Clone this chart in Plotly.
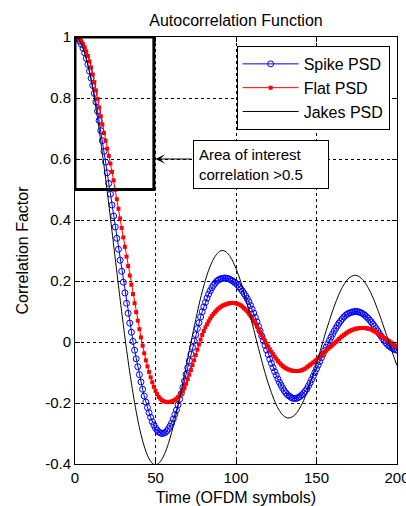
import plotly.graph_objects as go

# ---------------- data ----------------
time_spike = list(range(0, 201))
spike_psd = [
    1.000, 0.998, 0.994, 0.986, 0.976, 0.963, 0.948, 0.930, 0.910, 0.888,
    0.865, 0.841, 0.815, 0.787, 0.757, 0.726, 0.693, 0.660, 0.625, 0.590,
    0.555, 0.520, 0.485, 0.449, 0.413, 0.377, 0.340, 0.304, 0.268, 0.232,
    0.196, 0.161, 0.127, 0.094, 0.062, 0.032, 0.002, -0.027, -0.055, -0.081,
    -0.107, -0.131, -0.155, -0.177, -0.197, -0.215, -0.232, -0.247, -0.261, -0.272,
    -0.282, -0.289, -0.295, -0.298, -0.300, -0.299, -0.297, -0.292, -0.285, -0.276,
    -0.266, -0.253, -0.238, -0.223, -0.206, -0.188, -0.169, -0.149, -0.128, -0.106,
    -0.084, -0.062, -0.040, -0.018, 0.003, 0.024, 0.044, 0.063, 0.082, 0.099,
    0.115, 0.130, 0.144, 0.157, 0.168, 0.178, 0.186, 0.193, 0.199, 0.203,
    0.206, 0.208, 0.209, 0.210, 0.209, 0.208, 0.206, 0.203, 0.200, 0.196,
    0.192, 0.187, 0.181, 0.174, 0.167, 0.159, 0.151, 0.142, 0.132, 0.120,
    0.108, 0.095, 0.081, 0.066, 0.051, 0.036, 0.020, 0.004, -0.011, -0.026,
    -0.041, -0.056, -0.070, -0.084, -0.097, -0.109, -0.121, -0.132, -0.142, -0.151,
    -0.160, -0.167, -0.173, -0.177, -0.181, -0.184, -0.185, -0.185, -0.184, -0.181,
    -0.178, -0.173, -0.168, -0.161, -0.154, -0.144, -0.134, -0.123, -0.112, -0.100,
    -0.088, -0.076, -0.064, -0.052, -0.040, -0.028, -0.017, -0.006, 0.005, 0.016,
    0.026, 0.036, 0.045, 0.054, 0.062, 0.069, 0.076, 0.082, 0.087, 0.091,
    0.094, 0.096, 0.098, 0.099, 0.100, 0.100, 0.099, 0.097, 0.095, 0.092,
    0.088, 0.083, 0.078, 0.072, 0.066, 0.059, 0.052, 0.044, 0.036, 0.028,
    0.020, 0.012, 0.005, -0.002, -0.008, -0.013, -0.017, -0.020, -0.023, -0.025,
    -0.027,
]

time_flat = list(range(0, 201))
flat_psd = [
    1.000, 0.999, 0.996, 0.991, 0.985, 0.976, 0.966, 0.953, 0.938, 0.920,
    0.900, 0.877, 0.852, 0.825, 0.797, 0.769, 0.740, 0.713, 0.685, 0.660,
    0.634, 0.610, 0.585, 0.558, 0.530, 0.499, 0.468, 0.437, 0.405, 0.374,
    0.343, 0.312, 0.280, 0.249, 0.218, 0.188, 0.157, 0.127, 0.098, 0.070,
    0.042, 0.015, -0.012, -0.037, -0.060, -0.080, -0.098, -0.116, -0.132, -0.147,
    -0.160, -0.171, -0.180, -0.186, -0.191, -0.194, -0.196, -0.197, -0.197, -0.196,
    -0.195, -0.193, -0.190, -0.186, -0.181, -0.175, -0.168, -0.160, -0.150, -0.137,
    -0.122, -0.107, -0.092, -0.076, -0.060, -0.043, -0.025, -0.008, 0.008, 0.023,
    0.036, 0.048, 0.058, 0.068, 0.077, 0.085, 0.092, 0.098, 0.104, 0.109,
    0.113, 0.117, 0.120, 0.122, 0.124, 0.126, 0.127, 0.128, 0.128, 0.128,
    0.127, 0.125, 0.123, 0.120, 0.116, 0.111, 0.106, 0.100, 0.093, 0.086,
    0.078, 0.069, 0.060, 0.051, 0.041, 0.032, 0.022, 0.012, 0.003, -0.006,
    -0.015, -0.024, -0.032, -0.040, -0.048, -0.055, -0.062, -0.068, -0.074, -0.079,
    -0.083, -0.086, -0.089, -0.091, -0.093, -0.094, -0.095, -0.095, -0.095, -0.095,
    -0.094, -0.092, -0.090, -0.087, -0.083, -0.079, -0.075, -0.071, -0.067, -0.063,
    -0.058, -0.053, -0.048, -0.043, -0.038, -0.033, -0.028, -0.023, -0.018, -0.014,
    -0.009, -0.005, 0.000, 0.005, 0.010, 0.015, 0.019, 0.023, 0.027, 0.031,
    0.034, 0.037, 0.039, 0.041, 0.043, 0.044, 0.045, 0.046, 0.046, 0.046,
    0.046, 0.045, 0.044, 0.043, 0.041, 0.038, 0.035, 0.032, 0.028, 0.024,
    0.020, 0.017, 0.013, 0.010, 0.006, 0.003, -0.001, -0.005, -0.008, -0.012,
    -0.015,
]

time_jakes = list(range(0, 201, 2))
jakes_psd = [
    1.000, 0.994, 0.977, 0.948, 0.908, 0.858, 0.800, 0.733, 0.658, 0.578,
    0.494, 0.407, 0.318, 0.229, 0.141, 0.057, -0.024, -0.099, -0.167, -0.228,
    -0.281, -0.324, -0.358, -0.383, -0.398, -0.403, -0.398, -0.384, -0.363, -0.333,
    -0.297, -0.255, -0.209, -0.159, -0.107, -0.054, -0.002, 0.049, 0.098, 0.144,
    0.184, 0.220, 0.249, 0.272, 0.288, 0.298, 0.300, 0.295, 0.283, 0.265,
    0.241, 0.213, 0.179, 0.142, 0.103, 0.062, 0.020, -0.021, -0.062, -0.100,
    -0.135, -0.166, -0.194, -0.216, -0.233, -0.244, -0.249, -0.248, -0.242, -0.230,
    -0.213, -0.192, -0.166, -0.136, -0.104, -0.070, -0.035, 0.001, 0.037, 0.070,
    0.102, 0.131, 0.157, 0.179, 0.196, 0.209, 0.216, 0.219, 0.216, 0.208,
    0.196, 0.179, 0.158, 0.134, 0.106, 0.077, 0.046, 0.015, -0.017, -0.048,
    -0.077,
]

series_names = ["Spike PSD", "Flat PSD", "Jakes PSD"]

x_tick_values = [0, 50, 100, 150, 200]
x_tick_labels = ["0", "50", "100", "150", "200"]
y_tick_values = [-0.4, -0.2, 0, 0.2, 0.4, 0.6, 0.8, 1]
y_tick_labels = ["-0.4", "-0.2", "0", "0.2", "0.4", "0.6", "0.8", "1"]

# area of interest (time range, correlation range)
area_time = [0, 49]
area_corr = [0.5, 1.0]
area_note = ["Area of interest", "correlation >0.5"]

# ---------------- figure ----------------
FONT = "Liberation Sans, Arial, Helvetica, sans-serif"

fig = go.Figure()
fig.add_trace(go.Scatter(
    x=time_spike, y=spike_psd, name=series_names[0], mode="lines+markers",
    line=dict(color="#0000FF", width=1),
    marker=dict(symbol="circle-open", size=6, color="#0000FF", line=dict(width=1)),
))
fig.add_trace(go.Scatter(
    x=time_flat, y=flat_psd, name=series_names[1], mode="lines+markers",
    line=dict(color="#FF0000", width=1),
    marker=dict(symbol="square", size=4, color="#FF0000", line=dict(width=0)),
))
fig.add_trace(go.Scatter(
    x=time_jakes, y=jakes_psd, name=series_names[2], mode="lines",
    line=dict(color="#000000", width=1, shape="spline", smoothing=0.6),
))

fig.add_shape(
    type="rect", xref="x", yref="y",
    x0=area_time[0], x1=area_time[1], y0=area_corr[0], y1=area_corr[1],
    line=dict(color="black", width=3), layer="above",
)

# arrow from the note box to the area rectangle
fig.add_annotation(
    x=area_time[1] + 1, y=0.6, xref="x", yref="y",
    ax=73.3, ay=0.6, axref="x", ayref="y",
    text="", showarrow=True, arrowhead=3, arrowsize=1.6, arrowwidth=1,
    arrowcolor="black", standoff=0, startstandoff=0,
)
# note box
fig.add_annotation(
    x=73.3, y=0.582, xref="x", yref="y", xanchor="left", yanchor="middle",
    text="<br>".join(area_note), showarrow=False, align="left",
    font=dict(family=FONT, size=15, color="black"),
    bgcolor="white", bordercolor="black", borderwidth=1, borderpad=5,
    width=124,
)

axis_common = dict(
    automargin=False,
    showline=True, linecolor="black", linewidth=1, mirror="ticks",
    ticks="inside", ticklen=5, tickwidth=1, tickcolor="black",
    showgrid=True, gridcolor="black", gridwidth=1, griddash="3px,3px",
    zeroline=False, tickfont=dict(family=FONT, size=15, color="black"),
    ticklabeloverflow="allow",
)

fig.update_layout(
    width=406, height=506,
    margin=dict(l=75, r=9, t=37, b=42, autoexpand=False),
    paper_bgcolor="white", plot_bgcolor="white",
    font=dict(family=FONT, size=15, color="black"),
    title=dict(text="Autocorrelation Function", x=0.5, xref="paper",
               y=0.96, yanchor="middle", font=dict(family=FONT, size=16, color="black")),
    xaxis=dict(range=[0, 200], tickvals=x_tick_values, ticktext=x_tick_labels,
               title=dict(text="Time (OFDM symbols)", standoff=8,
                          font=dict(family=FONT, size=16, color="black")),
               **axis_common),
    yaxis=dict(range=[-0.4, 1], tickvals=y_tick_values, ticktext=y_tick_labels,
               title=dict(text="Correlation Factor", standoff=12,
                          font=dict(family=FONT, size=16, color="black")),
               **axis_common),
    legend=dict(x=0.502, y=0.979, xanchor="left", yanchor="top",
                bgcolor="white", bordercolor="black", borderwidth=1,
                font=dict(family=FONT, size=16, color="black"),
                itemwidth=56, tracegroupgap=0),
    showlegend=True,
)

fig.write_html(
    "out.html",
    config={"displayModeBar": False},
    post_script="document.body.style.margin='0px';document.body.style.overflow='hidden';",
)
